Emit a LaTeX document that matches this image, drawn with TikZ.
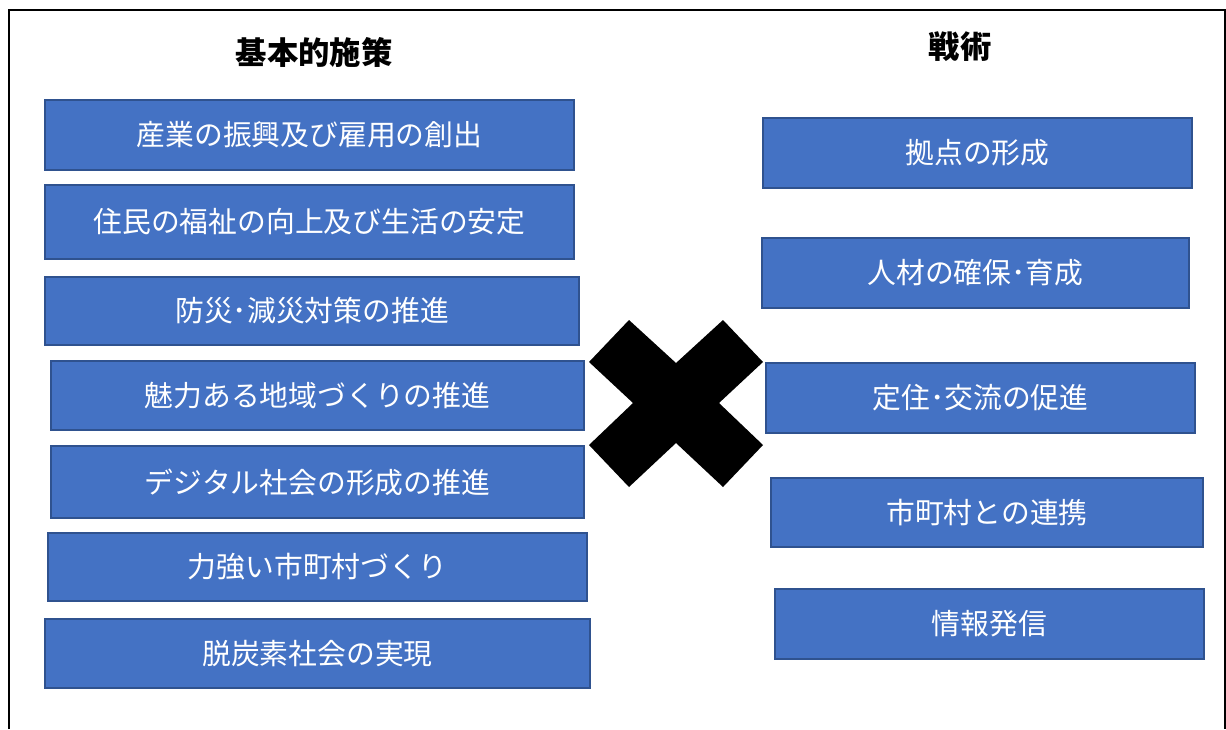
\documentclass[tikz,border=0pt]{standalone}
\usepackage{fontspec}
\setmainfont{Noto Sans CJK JP}
\usepackage{xcolor}
\usetikzlibrary{positioning}

\definecolor{boxblue}{HTML}{4472C4}
\definecolor{boxedge}{HTML}{2F528F}

\begin{document}
\begin{tikzpicture}[x=0.75pt, y=-0.75pt,
    policy/.style={draw=boxedge, fill=boxblue, line width=1.8pt, text=white, font=\fontsize{21.6}{25}\selectfont, inner sep=0pt},
    heading/.style={font=\bfseries\fontsize{23.5}{27}\selectfont}]
    \useasboundingbox (0,0) rectangle (1226,729);
    % Outer frame
    \draw[line width=1.6pt] (9,729) -- (9,10) -- (1225,10) -- (1225,729);

    % Headings
    \node[heading] (hbasic) at (314,52) {基本的施策};
    \node[heading] (htactic) at (960,47) {戦術};

    % Basic policies
    \node[policy, minimum width=396.75pt, minimum height=52.5pt] (p1) at (309.5,135) {産業の振興及び雇用の創出};
    \node[policy, minimum width=396.75pt, minimum height=55.5pt] (p2) at (309.5,222) {住民の福祉の向上及び生活の安定};
    \node[policy, minimum width=400.5pt, minimum height=51pt] (p3) at (312,311) {防災･減災対策の推進};
    \node[policy, minimum width=399.75pt, minimum height=51.75pt] (p4) at (317.5,395.5) {魅力ある地域づくりの推進};
    \node[policy, minimum width=399.75pt, minimum height=54pt] (p5) at (317.5,482) {デジタル社会の形成の推進};
    \node[policy, minimum width=404.25pt, minimum height=51pt] (p6) at (317.5,567) {力強い市町村づくり};
    \node[policy, minimum width=408.75pt, minimum height=51.75pt] (p7) at (317.5,653.5) {脱炭素社会の実現};

    % Tactics
    \node[policy, minimum width=321.75pt, minimum height=52.5pt] (t1) at (977.5,153) {拠点の形成};
    \node[policy, minimum width=320.25pt, minimum height=52.5pt] (t2) at (975.5,273) {人材の確保･育成};
    \node[policy, minimum width=321.75pt, minimum height=52.5pt] (t3) at (980.5,398) {定住･交流の促進};
    \node[policy, minimum width=324pt, minimum height=51.75pt] (t4) at (987,512.5) {市町村との連携};
    \node[policy, minimum width=321.75pt, minimum height=52.5pt] (t5) at (989.5,624) {情報発信};

    % Cross mark
    \fill (629,320) -- (676,363) -- (723,320) -- (763,362) -- (719,403) -- (763,445)
        -- (723,487) -- (676,443) -- (629,487) -- (589,445) -- (633,403) -- (589,362) -- cycle;
\end{tikzpicture}
\end{document}
